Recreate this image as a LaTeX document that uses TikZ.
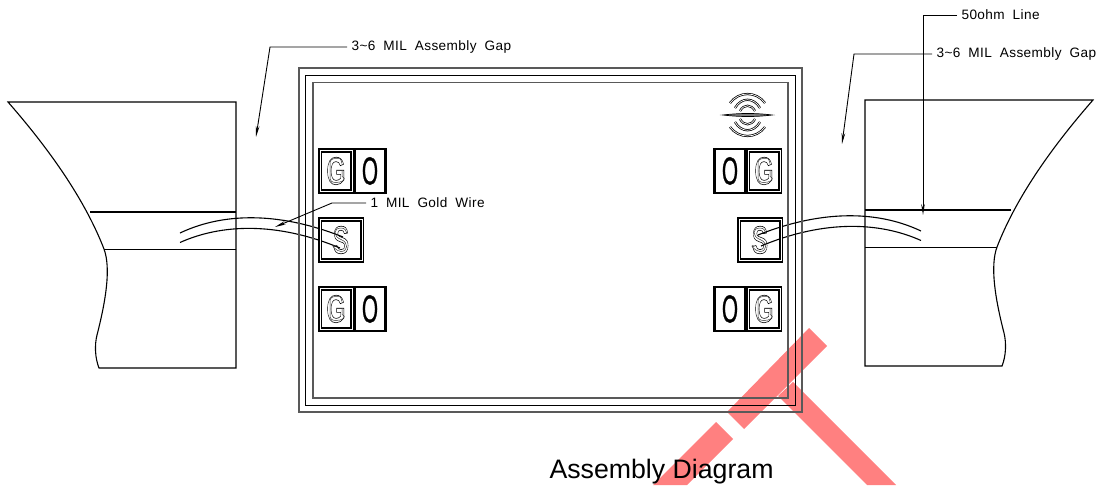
\documentclass[tikz,border=0pt]{standalone}
\usepackage{fontspec}
\usepackage{tikz}
\usetikzlibrary{arrows.meta}
\setmainfont{Liberation Sans}
\newfontfamily\cadfont[WordSpace=1.9, LetterSpace=3]{Liberation Sans}
\newfontfamily\padfont{Liberation Sans Bold}
\definecolor{markred}{HTML}{FF8080}
\newcommand{\outlined}[1]{\special{pdf:code 1 Tr 0.6 w}#1\special{pdf:code 0 Tr}}
\newcommand{\solidtext}[1]{\special{pdf:code 2 Tr 0.4 w}#1\special{pdf:code 0 Tr}}
\newcommand{\horn}{
\draw (8,102) .. controls (50,150) and (85,200) .. (104,249) .. controls (111,268) and (106,300) .. (97,335) .. controls (94.5,345) and (95,358) .. (99,368) -- (236,368) -- (236,102) -- cycle;
\draw (90,212) -- (236,212);
\draw (104,249.5) -- (236,249.5);
\draw (180,233) .. controls (220,214) and (275,210) .. (343,237);
\draw (180,242.5) .. controls (220,224.5) and (275,221) .. (340,248);
}
\tikzset{
	leader/.style={line width=.9pt, -{Stealth[length=11pt,width=3.6pt]}},
	cadlabel/.style={anchor=west, inner xsep=4pt, inner ysep=0pt, font=\cadfont\fontsize{13.6}{15}\selectfont},
	padg/.style={draw, line width=2pt, double, double distance=.9pt, minimum width=32pt, minimum height=41pt, inner sep=0pt},
	pado/.style={draw, line width=2.2pt, minimum width=31pt, minimum height=44pt, inner sep=0pt},
	letterg/.style={inner sep=0pt, xscale=.62, font=\padfont\fontsize{39}{39}\selectfont},
	lettero/.style={inner sep=0pt, xscale=.53, font=\fontsize{39}{39}\selectfont},
	centreline/.style={line width=.5pt, black!80},
	wave/.style={line width=.75pt, double, double distance=.7pt}
}
\begin{document}
\begin{tikzpicture}[x=1pt, y=-1pt, line width=1.1pt]
\useasboundingbox (0,0) rectangle (1103,485);
% red mark
\fill[markred] (809,328) -- (827,346) -- (744,429) -- (727,412) -- cycle;
\fill[markred] (716,422) -- (733,439) -- (687,485) -- (653,485) -- cycle;
\fill[markred] (793,382) -- (896,485) -- (867,485) -- (778,396) -- cycle;
% tapers
\horn
\begin{scope}[xscale=-1, xshift=-1101pt, yshift=2pt]
\horn
\end{scope}
% carrier
\draw[black!65, line width=1.4pt] (299,68) rectangle (802,412);
\draw (305.5,75.5) rectangle (795.5,405.5);
\draw[black!65, line width=1.4pt] (313,82.5) rectangle (788,398);
% pads
\foreach \name/\x/\y/\xo in {tl/336/171/370, bl/336/309/370, tr/764/171/730, br/764/309/730}{
\node[pado] (o\name) at (\xo,\y) {};
\node[padg] (g\name) at (\x,\y) {};
\node[lettero] (lo\name) at (\xo,\y) {\solidtext{O}};
\node[letterg] (lg\name) at (\x,\y) {\outlined{G}};
\draw[centreline] ([shift={(6,-7.5)}]lg\name.center) .. controls +(-2,-5) and +(6,0) .. ++(-6,-5) .. controls +(-5,0) and +(0,-4) .. ++(-6,6) -- ++(0,12) .. controls +(0,4) and +(-5,0) .. ++(6,6) .. controls +(5,0) and +(6,3) .. ++(6,-6) -- ++(0,-6) -- ++(-5,0);
}
\foreach \name/\x in {l/341, r/760}{
\node[padg, minimum width=42pt] (s\name) at (\x,240) {};
\node[letterg] (ls\name) at (\x,240) {\outlined{S}};
\draw[centreline] ([shift={(6,-6.5)}]ls\name.center) .. controls +(-1,-3) and +(4,0) .. ++(-6,-5.5) .. controls +(-8,0) and +(-8,-3) .. ++(0,11.5) .. controls +(8,3) and +(7,0) .. ++(0,12) .. controls +(-4,0) and +(-6,-2) .. ++(-6,-5.5);
}
% logo
\foreach \w/\t/\e in {17.5/93/103, 12.5/99/108, 7.5/106/111}{
\draw[wave] (747.5-\w,\e) .. controls (747.5-\w/2,\t-2) and (747.5+\w/2,\t-2) .. (747.5+\w,\e);
\draw[wave] (747.5-\w,230-\e) .. controls (747.5-\w/2,232-\t) and (747.5+\w/2,232-\t) .. (747.5+\w,230-\e);
}
\draw[line width=.7pt, fill=black!50] (723,115) .. controls (740,113) and (756,113) .. (772,115) .. controls (756,117) and (740,117) .. cycle;
% labels
\node[cadlabel] (gapl) at (347,47) {3\char"007E 6 MIL Assembly Gap};
\node[cadlabel] (gapr) at (932,54) {3\char"007E 6 MIL Assembly Gap};
\node[cadlabel] (line) at (957,15) {50ohm Line};
\node[cadlabel] (wire) at (366,203) {1 MIL Gold Wire};
\node[inner sep=0pt, anchor=base west, font=\fontsize{26.7}{30}\selectfont] (title) at (549,478) {Assembly Diagram};
\coordinate (gaplk) at (270,47);
\coordinate (gaplt) at (256,137);
\coordinate (gaprk) at (854,54);
\coordinate (gaprt) at (842,144);
\coordinate (linek) at (923,15);
\coordinate (linet) at (923,215);
\coordinate (wirek) at (332,203);
\coordinate (wiret) at (275,227);
\draw[leader] (gapl.west) -- (gaplk) -- (gaplt);
\draw[leader] (gapr.west) -- (gaprk) -- (gaprt);
\draw[leader] (line.west) -- (linek) -- (linet);
\draw[leader] (wire.west) -- (wirek) -- (wiret);
\end{tikzpicture}
\end{document}
